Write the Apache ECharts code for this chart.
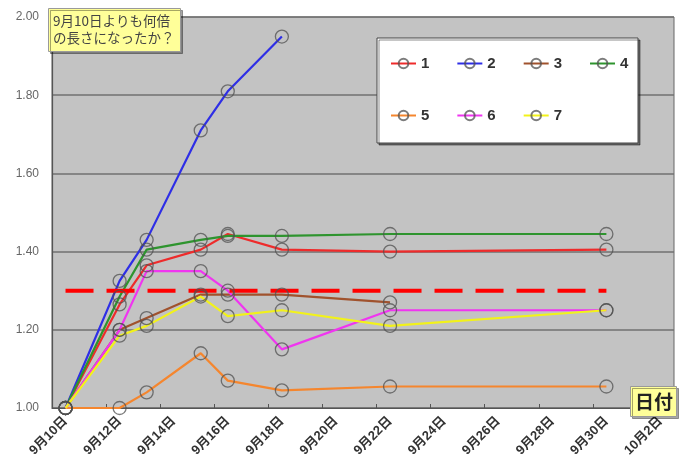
<!DOCTYPE html>
<html>
<head>
<meta charset="utf-8">
<script src="https://cdn.jsdelivr.net/npm/echarts@6/dist/echarts.min.js"></script>
<style>
  html, body { margin: 0; padding: 0; background: #ffffff; }
  #chart { width: 686px; height: 466px; }
</style>
</head>
<body>
<div id="chart"></div>
<script>
// Every day on the horizontal axis (labels shown every other day)
const dayLabels = [
  '9月10日', '9月11日', '9月12日', '9月13日', '9月14日', '9月15日', '9月16日',
  '9月17日', '9月18日', '9月19日', '9月20日', '9月21日', '9月22日', '9月23日',
  '9月24日', '9月25日', '9月26日', '9月27日', '9月28日', '9月29日', '9月30日',
  '10月1日', '10月2日'
];

// Days on which the lengths were measured
const sampleDays = ['9月10日', '9月12日', '9月13日', '9月15日', '9月16日', '9月18日', '9月22日', '9月30日'];

// Growth ratio relative to 9/10 for each plant (null = not measured)
const plant1 = [1.00, 1.265, 1.365, 1.405, 1.445, 1.405, 1.40, 1.405];
const plant2 = [1.00, 1.325, 1.43, 1.71, 1.81, 1.95, null, null];
const plant3 = [1.00, 1.20, 1.23, 1.29, 1.29, 1.29, 1.27, null];
const plant4 = [1.00, 1.285, 1.405, 1.43, 1.44, 1.44, 1.445, 1.445];
const plant5 = [1.00, 1.00, 1.04, 1.14, 1.07, 1.045, 1.055, 1.055];
const plant6 = [1.00, 1.20, 1.35, 1.35, 1.30, 1.15, 1.25, 1.25];
const plant7 = [1.00, 1.185, 1.21, 1.285, 1.235, 1.25, 1.21, 1.25];

const seriesNames = ['1', '2', '3', '4', '5', '6', '7'];
const seriesValues = [plant1, plant2, plant3, plant4, plant5, plant6, plant7];
const seriesColors = ['#EE2B2B', '#2E2EE6', '#A0522D', '#2E942E', '#F5862E', '#F035F0', '#F2F21A'];

// Reference level drawn as a dashed line
const referenceLevel = 1.30;
const referenceSpan = ['9月10日', '9月30日'];

const yTicks = { min: 1.0, max: 2.0, step: 0.2 };

const fontFamily = "'Liberation Sans', 'Noto Sans CJK JP', sans-serif";

function toPairs(values) {
  const out = [];
  values.forEach((v, i) => { if (v !== null) out.push([sampleDays[i], v]); });
  return out;
}

const plantSeries = seriesNames.map((name, i) => ({
  name: name,
  type: 'line',
  data: toPairs(seriesValues[i]),
  symbol: 'circle',
  symbolSize: 13,
  showSymbol: true,
  lineStyle: { color: seriesColors[i], width: 2.2 },
  itemStyle: { color: 'transparent', borderColor: 'rgba(80,80,80,0.75)', borderWidth: 1.3 },
  emphasis: { disabled: true },
  animation: false
}));

const referenceSeries = {
  name: 'ref',
  type: 'line',
  data: referenceSpan.map(d => [d, referenceLevel]),
  symbol: 'none',
  lineStyle: { color: '#FF0000', width: 4, type: [28, 13] },
  emphasis: { disabled: true },
  silent: true,
  animation: false
};

const legendText = { fontSize: 15, fontWeight: 'bold', color: '#333', fontFamily: fontFamily };

const chart = echarts.init(document.getElementById('chart'), null, { renderer: 'canvas' });
chart.setOption({
  backgroundColor: '#ffffff',
  animation: false,
  textStyle: { fontFamily: fontFamily },
  title: [
    {
      text: '9月10日よりも何倍\nの長さになったか？',
      left: 48,
      top: 8,
      padding: [5, 6, 5, 5],
      backgroundColor: '#FFFF99',
      borderColor: '#9a9a9a',
      borderWidth: 1,
      shadowColor: 'rgba(0,0,0,0.35)',
      shadowOffsetX: 2,
      shadowOffsetY: 2,
      shadowBlur: 0,
      textStyle: {
        fontSize: 13.5,
        fontWeight: 'normal',
        color: '#444',
        lineHeight: 16.7,
        fontFamily: "'Noto Sans CJK JP', sans-serif"
      }
    },
    {
      text: '日付',
      left: 630,
      top: 386,
      padding: [5, 4, 5, 5],
      backgroundColor: '#FFFF99',
      borderColor: '#9a9a9a',
      borderWidth: 1,
      shadowColor: 'rgba(0,0,0,0.35)',
      shadowOffsetX: 2,
      shadowOffsetY: 2,
      shadowBlur: 0,
      textStyle: {
        fontSize: 19,
        fontWeight: 'bold',
        color: '#222',
        lineHeight: 21,
        fontFamily: "'Noto Sans CJK JP', sans-serif"
      }
    }
  ],
  graphic: [
    {
      type: 'rect',
      z: 5,
      shape: { x: 377, y: 38, width: 261, height: 105 },
      style: {
        fill: '#ffffff',
        stroke: '#444',
        lineWidth: 1,
        shadowColor: 'rgba(0,0,0,0.45)',
        shadowOffsetX: 2,
        shadowOffsetY: 2,
        shadowBlur: 0
      }
    }
  ],
  legend: [
    {
      data: ['1', '2', '3', '4'],
      left: 390,
      top: 56,
      padding: 0,
      itemWidth: 25,
      itemHeight: 12,
      itemGap: 27,
      z: 10,
      selectedMode: false,
      textStyle: legendText
    },
    {
      data: ['5', '6', '7'],
      left: 390,
      top: 108,
      padding: 0,
      itemWidth: 25,
      itemHeight: 12,
      itemGap: 27,
      z: 10,
      selectedMode: false,
      textStyle: legendText
    }
  ],
  grid: {
    left: 52,
    right: 12,
    top: 17,
    bottom: 58,
    show: true,
    backgroundColor: '#C3C3C3',
    borderColor: '#666',
    borderWidth: 1,
    containLabel: false
  },
  xAxis: {
    type: 'category',
    data: dayLabels,
    boundaryGap: true,
    axisLine: { show: true, lineStyle: { color: '#555', width: 1.2 } },
    axisTick: { show: true, interval: 1, inside: true, length: 4, lineStyle: { color: '#555' } },
    axisLabel: {
      interval: 1,
      rotate: 45,
      margin: 11,
      fontSize: 13,
      fontWeight: 'bold',
      color: '#333',
      fontFamily: fontFamily
    },
    splitLine: { show: false }
  },
  yAxis: {
    type: 'value',
    min: yTicks.min,
    max: yTicks.max,
    interval: yTicks.step,
    axisLine: { show: true, lineStyle: { color: '#555', width: 1.2 } },
    axisTick: { show: false },
    axisLabel: {
      margin: 13,
      fontSize: 12,
      color: '#666',
      fontFamily: fontFamily,
      formatter: v => v.toFixed(2)
    },
    splitLine: { show: true, lineStyle: { color: '#707070', width: 1.5 } }
  },
  series: plantSeries.concat([referenceSeries])
});
</script>
</body>
</html>
